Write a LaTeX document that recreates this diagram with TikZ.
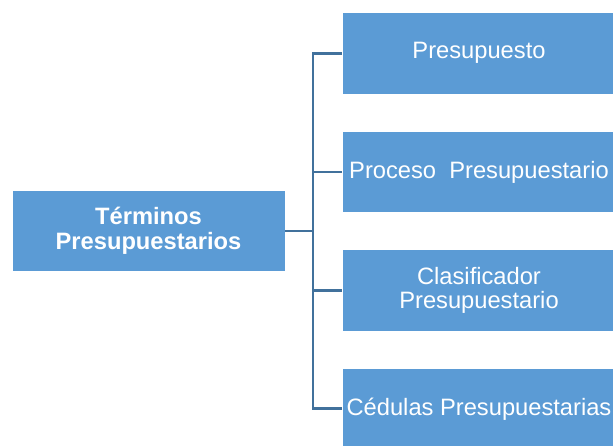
\documentclass[tikz,border=0pt]{standalone}
\usepackage{fontspec}
\setmainfont{Liberation Sans}
\definecolor{boxfill}{HTML}{5B9BD5}
\definecolor{conn}{HTML}{41719C}
\begin{document}
\begin{tikzpicture}[x=1pt,y=-1pt,
  termbox/.style={rectangle, fill=boxfill, draw=white, line width=0.8pt,
    minimum width=273pt, minimum height=81.5pt, inner sep=0pt,
    text=white, align=center,
    font=\fontsize{23.7}{24.5}\selectfont},
  link/.style={draw=conn, line width=2.7pt, line join=miter}]
\useasboundingbox (0,0) rectangle (613,445);
\node[termbox, font=\fontsize{23.7}{24.5}\selectfont\bfseries] (L) at (148.5,231) {Términos\\Presupuestarios};
\node[termbox] (B1) at (479,53.3) {Presupuesto};
\node[termbox] (B2) at (479,171.9) {Proceso\ \ Presupuestario};
\node[termbox] (B3) at (479,290.5) {Clasificador\\Presupuestario};
\node[termbox] (B4) at (479,408.8) {Cédulas Presupuestarias};
\coordinate (T) at (313,231);
\draw[link] (L.east) -- (T);
\draw[link] (B1.west) -| (T);
\draw[link] (B2.west) -| (T);
\draw[link] (B3.west) -| (T);
\draw[link] (B4.west) -| (T);
\end{tikzpicture}
\end{document}
